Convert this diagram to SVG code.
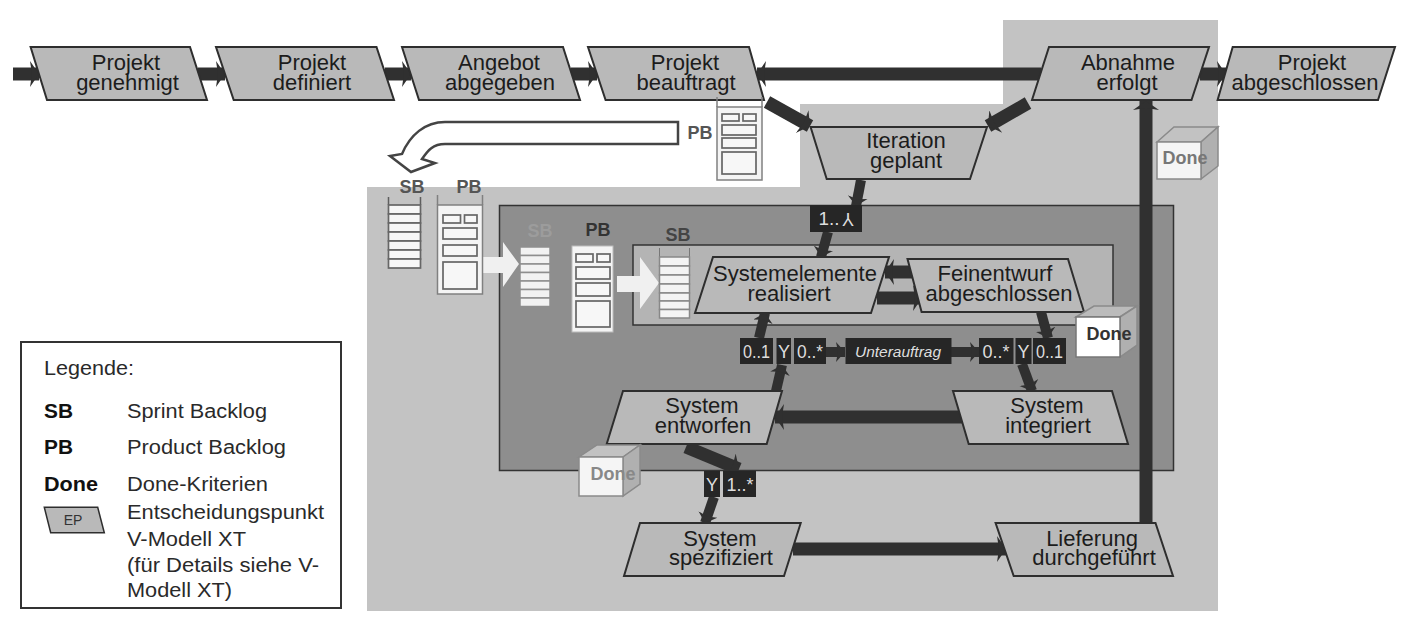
<svg xmlns="http://www.w3.org/2000/svg" width="1417" height="632" viewBox="0 0 1417 632">
<style>
text{font-family:"Liberation Sans",Arial,sans-serif;fill:#1c1c1c}
.ep{fill:#b9b9b9;stroke:#2e2e2e;stroke-width:2}
.n{font-size:22px;text-anchor:middle}
.c{fill:none;stroke:#303030;stroke-width:13;marker-end:url(#h)}
.c2{fill:none;stroke:#303030;stroke-width:10;marker-end:url(#h2)}
.box{fill:#262626}
.w{fill:#dedede;font-size:18px;text-anchor:middle}
.bl{fill:#f4f4f4;stroke:#808080;stroke-width:1.500}
.row{fill:#f7f7f7;stroke:#666;stroke-width:1.700}
.lb{font-size:18px;font-weight:bold;fill:#555;text-anchor:middle}
.dn{font-size:18px;font-weight:bold;text-anchor:middle}
.cf{fill:#f5f5f5;stroke:#8a8a8a;stroke-width:1.500}
.cs{fill:#b0b0b0;stroke:#8a8a8a;stroke-width:1.500}
.ct{fill:#c2c2c2;stroke:#8a8a8a;stroke-width:1.500}
.lg{font-size:20px;fill:#2a2a2a}
.lgb{font-size:20px;font-weight:bold;fill:#111}
.wa{fill:#f0f0f0}
</style>
<defs>
<marker id="h" markerUnits="userSpaceOnUse" markerWidth="10" markerHeight="28" refX="9" refY="14" orient="auto"><path d="M0 1L9 14L0 27L2 14Z" fill="#303030"/></marker>
<marker id="h2" markerUnits="userSpaceOnUse" markerWidth="10" markerHeight="22" refX="9" refY="11" orient="auto"><path d="M0 1L9 11L0 21L2 11Z" fill="#303030"/></marker>
</defs>
<rect width="1417" height="632" fill="#fff"/>
<path id="bg" d="M1003 20H1218V611H367V187H800V104H1003Z" fill="#c3c3c3"/>
<rect id="outer-box" x="499.500" y="205.500" width="674" height="265" fill="#8e8e8e" stroke="#333" stroke-width="1.500"/>
<rect id="inner-box" x="633" y="245" width="480" height="80" fill="#b4b4b4" stroke="#333" stroke-width="1.500"/>

<g id="connectors">
<line class="c" x1="13" y1="74" x2="39" y2="74"/>
<line class="c" x1="198" y1="74" x2="225" y2="74"/>
<line class="c" x1="385" y1="74" x2="411" y2="74"/>
<line class="c" x1="571" y1="74" x2="597" y2="74"/>
<line class="c" x1="1041" y1="74" x2="757" y2="74"/>
<line class="c" x1="1200" y1="74" x2="1226" y2="74"/>
<line class="c" x1="767" y1="102" x2="810" y2="126"/>
<line class="c" x1="1028" y1="103" x2="988" y2="126"/>
<line class="c2" x1="861" y1="180" x2="856" y2="206"/>
<line class="c2" x1="828" y1="232" x2="821" y2="257"/>
<line class="c2" x1="759" y1="338" x2="765" y2="313"/>
<line class="c2" x1="776" y1="391" x2="782" y2="365"/>
<line class="c2" x1="826" y1="352" x2="845" y2="352"/>
<line class="c2" x1="951" y1="352" x2="979" y2="352"/>
<line class="c2" x1="1041" y1="312" x2="1048" y2="338"/>
<line class="c2" x1="1022" y1="364" x2="1032" y2="391"/>
<line class="c" x1="962" y1="417" x2="775" y2="417"/>
<line class="c" x1="915" y1="272" x2="885" y2="272"/>
<line class="c" x1="877" y1="298" x2="922" y2="298"/>
<line class="c" x1="686" y1="447" x2="739" y2="469"/>
<line class="c2" x1="714" y1="497" x2="705" y2="523"/>
<line class="c" x1="793" y1="549" x2="1006" y2="549"/>
<line class="c" x1="1146" y1="523" x2="1146" y2="101"/>
</g>

<g id="n-genehmigt"><polygon class="ep" points="30.600,47 190,47 207,100 47,100"/><text class="n" x="126" y="70">Projekt</text><text class="n" x="127.500" y="90">genehmigt</text></g>
<g id="n-definiert"><polygon class="ep" points="216,47 376.500,47 394,100 233.700,100"/><text class="n" x="312" y="70">Projekt</text><text class="n" x="312" y="90">definiert</text></g>
<g id="n-angebot"><polygon class="ep" points="402,47 563,47 580,100 419,100"/><text class="n" x="499" y="70">Angebot</text><text class="n" x="500" y="90">abgegeben</text></g>
<g id="n-beauftragt"><polygon class="ep" points="588,47 749,47 764,100 605.600,100"/><text class="n" x="685" y="70">Projekt</text><text class="n" x="686" y="90">beauftragt</text></g>
<g id="n-abnahme"><polygon class="ep" points="1049,47 1209,47 1191.500,100 1032,100"/><text class="n" x="1128" y="70">Abnahme</text><text class="n" x="1127" y="90">erfolgt</text></g>
<g id="n-abgeschlossen"><polygon class="ep" points="1232.700,47 1395,47 1378,100 1217.600,100"/><text class="n" x="1312" y="70">Projekt</text><text class="n" x="1305" y="90">abgeschlossen</text></g>
<g id="n-iteration"><polygon class="ep" points="810.600,127 987,127 970,179 826.700,179"/><text class="n" x="906" y="148">Iteration</text><text class="n" x="906" y="168">geplant</text></g>
<g id="n-systemelemente"><polygon class="ep" points="713,257 889,257 871,313 695,313"/><text class="n" x="795" y="281">Systemelemente</text><text class="n" x="789" y="301">realisiert</text></g>
<g id="n-feinentwurf"><polygon class="ep" points="907.500,259 1068,259 1084,312 921.600,312"/><text class="n" x="995" y="281">Feinentwurf</text><text class="n" x="999" y="301">abgeschlossen</text></g>
<g id="n-entworfen"><polygon class="ep" points="623,391 782,391 766.700,444 606.700,444"/><text class="n" x="702" y="413">System</text><text class="n" x="703" y="433">entworfen</text></g>
<g id="n-integriert"><polygon class="ep" points="953,391 1112,391 1128,444 968.700,444"/><text class="n" x="1047" y="413">System</text><text class="n" x="1048" y="433">integriert</text></g>
<g id="n-spezifiziert"><polygon class="ep" points="640,523 800.700,523 784,576 624,576"/><text class="n" x="720" y="546">System</text><text class="n" x="721" y="565">spezifiziert</text></g>
<g id="n-lieferung"><polygon class="ep" points="995.600,523 1155.500,523 1173,576 1013.700,576"/><text class="n" x="1092" y="546">Lieferung</text><text class="n" x="1094" y="565">durchgeführt</text></g>

<g id="tag-1n"><rect class="box" x="810" y="205" width="52" height="27"/><text class="w" x="829" y="225" textLength="21" lengthAdjust="spacingAndGlyphs">1..</text><text class="w" transform="rotate(180 848 219)" x="848" y="225">Y</text></g>
<g id="tag-01-left"><rect class="box" x="740" y="338" width="33" height="26"/><text class="w" x="756.500" y="358" textLength="27" lengthAdjust="spacingAndGlyphs">0..1</text></g>
<g id="tag-y-left"><rect class="box" x="776.500" y="338" width="14.500" height="26"/><text class="w" x="784" y="358">Y</text></g>
<g id="tag-0n-left"><rect class="box" x="794" y="338" width="32" height="26"/><text class="w" x="810" y="358" textLength="26" lengthAdjust="spacingAndGlyphs">0..*</text></g>
<g id="tag-unterauftrag"><rect class="box" x="845.500" y="338" width="106" height="26"/><text class="w" x="898" y="357" style="font-size:15.500px;font-style:italic" textLength="86" lengthAdjust="spacingAndGlyphs">Unterauftrag</text></g>
<g id="tag-0n-right"><rect class="box" x="979" y="338" width="34.500" height="26"/><text class="w" x="996" y="358" textLength="27" lengthAdjust="spacingAndGlyphs">0..*</text></g>
<g id="tag-y-right"><rect class="box" x="1015.500" y="338" width="16" height="26"/><text class="w" x="1023.500" y="358">Y</text></g>
<g id="tag-01-right"><rect class="box" x="1033" y="338" width="33" height="26"/><text class="w" x="1049.500" y="358" textLength="27" lengthAdjust="spacingAndGlyphs">0..1</text></g>
<g id="tag-y-bottom"><rect class="box" x="704" y="471" width="16" height="26"/><text class="w" x="712" y="491">Y</text></g>
<g id="tag-1n-bottom"><rect class="box" x="723" y="471" width="33" height="26"/><text class="w" x="740" y="491" textLength="27" lengthAdjust="spacingAndGlyphs">1..*</text></g>

<g id="arrow-curved"><path d="M678 122H445C425 122 410 135 402 154L390 156L411 172L435 163L422 159C428 150 433 144 445 144H678Z" fill="#fff" stroke="#444" stroke-width="2.500"/></g>
<g id="arrow-white-1"><polygon class="wa" points="483,257 503,257 503,242 519,264 503,287 503,273 483,273"/></g>
<g id="arrow-white-2"><polygon class="wa" points="617,276 640,276 640,257 659,283 640,309 640,292 617,292"/></g>

<g id="pb-top"><path d="M717 97V107M762 97V107" stroke="#808080" stroke-width="1.500" fill="none"/><rect x="717" y="107" width="45" height="73" class="bl"/><rect class="row" x="722" y="114" width="17" height="7"/><rect class="row" x="743" y="114" width="13" height="7"/><rect class="row" x="722" y="125" width="34" height="10"/><rect class="row" x="722" y="138" width="34" height="10"/><rect class="row" x="722" y="152" width="34" height="22"/><text class="lb" x="700" y="139">PB</text></g>
<g id="pb-light"><path d="M437.500 195V205M482.500 195V205" stroke="#808080" stroke-width="1.500" fill="none"/><rect x="437.500" y="205" width="45" height="89" class="bl"/><rect class="row" x="443" y="215" width="17.500" height="8"/><rect class="row" x="464.500" y="215" width="12.500" height="8"/><rect class="row" x="443" y="228" width="34" height="11"/><rect class="row" x="443" y="245" width="34" height="11"/><rect class="row" x="443" y="262" width="34" height="27"/><text class="lb" x="469" y="193">PB</text></g>
<g id="sb-light"><path d="M388.500 197V205M420.500 197V205" stroke="#5e5e5e" stroke-width="1.500" fill="none"/><rect class="row" x="388.500" y="205" width="32" height="9"/><rect class="row" x="388.500" y="214" width="32" height="9"/><rect class="row" x="388.500" y="223" width="32" height="9"/><rect class="row" x="388.500" y="232" width="32" height="9"/><rect class="row" x="388.500" y="241" width="32" height="9"/><rect class="row" x="388.500" y="250" width="32" height="9"/><rect class="row" x="388.500" y="259" width="32" height="9"/><text class="lb" x="412" y="193">SB</text></g>
<g id="sb-faded"><g fill="#f2f2f2" stroke="#8e8e8e" stroke-width="1.500"><rect x="520" y="247" width="30" height="8.500"/><rect x="520" y="255.500" width="30" height="8.500"/><rect x="520" y="264" width="30" height="8.500"/><rect x="520" y="272.500" width="30" height="8.500"/><rect x="520" y="281" width="30" height="8.500"/><rect x="520" y="289.500" width="30" height="8.500"/><rect x="520" y="298" width="30" height="8.500"/></g><text class="lb" x="540" y="237" style="fill:#9c9c9c">SB</text></g>
<g id="pb-dark"><rect x="572" y="246" width="41" height="86" fill="#f4f4f4" stroke="#bbb"/><rect class="row" x="576" y="254" width="17" height="8"/><rect class="row" x="597" y="254" width="13" height="8"/><rect class="row" x="576" y="267" width="34" height="12"/><rect class="row" x="576" y="283" width="34" height="13"/><rect class="row" x="576" y="301" width="34" height="26"/><text class="lb" x="598" y="236" style="fill:#333">PB</text></g>
<g id="sb-inner"><path d="M659.500 248V257M689.500 248V257" stroke="#777" fill="none"/><g fill="#f4f4f4" stroke="#888" stroke-width="1.500"><rect x="659.500" y="257" width="30" height="9"/><rect x="659.500" y="266" width="30" height="9"/><rect x="659.500" y="275" width="30" height="9"/><rect x="659.500" y="284" width="30" height="9"/><rect x="659.500" y="293" width="30" height="8"/><rect x="659.500" y="301" width="30" height="8.500"/><rect x="659.500" y="309.500" width="30" height="8.500"/></g><text class="lb" x="678" y="241" style="fill:#444">SB</text></g>

<g id="done-right"><polygon class="ct" points="1076,317 1094,306 1137,306 1120,317" style="fill:#bbb"/><polygon class="cs" points="1120,317 1137,306 1137,345 1120,357"/><rect x="1076" y="317" width="44" height="40" fill="#fff" stroke="#777" stroke-width="1.500"/><text class="dn" x="1109" y="340" style="fill:#333">Done</text></g>
<g id="done-entworfen"><polygon class="ct" points="579,457 597,445 640,445 623,457"/><polygon class="cs" points="623,457 640,445 640,484 623,496"/><rect x="579" y="457" width="44" height="39" class="cf"/><text class="dn" x="613" y="480" style="fill:#888">Done</text></g>
<g id="done-top"><polygon class="ct" points="1157,142 1174,127 1218,127 1201,142"/><polygon class="cs" points="1201,142 1218,127 1218,166 1201,179"/><rect x="1157" y="142" width="44" height="37" class="cf"/><text class="dn" x="1185" y="164" style="fill:#777">Done</text></g>

<g id="legend">
<rect x="21" y="342" width="320" height="266" fill="#fff" stroke="#333" stroke-width="2"/>
<text class="lg" x="44" y="375" textLength="90" lengthAdjust="spacingAndGlyphs">Legende:</text>
<text class="lgb" x="44" y="418" textLength="29" lengthAdjust="spacingAndGlyphs">SB</text><text class="lg" x="127" y="418" textLength="140" lengthAdjust="spacingAndGlyphs">Sprint Backlog</text>
<text class="lgb" x="44" y="454" textLength="29" lengthAdjust="spacingAndGlyphs">PB</text><text class="lg" x="127" y="454" textLength="159" lengthAdjust="spacingAndGlyphs">Product Backlog</text>
<text class="lgb" x="44" y="491" textLength="54" lengthAdjust="spacingAndGlyphs">Done</text><text class="lg" x="127" y="491" textLength="141" lengthAdjust="spacingAndGlyphs">Done-Kriterien</text>
<polygon class="ep" points="44.300,507.300 97.700,507.300 104.300,532.700 50.700,532.700" style="stroke-width:1.500"/><text x="73" y="525" style="font-size:14px;text-anchor:middle;fill:#333">EP</text>
<text class="lg" x="127" y="519" textLength="197" lengthAdjust="spacingAndGlyphs">Entscheidungspunkt</text>
<text class="lg" x="127" y="546" textLength="119" lengthAdjust="spacingAndGlyphs">V-Modell XT</text>
<text class="lg" x="127" y="572" textLength="192" lengthAdjust="spacingAndGlyphs">(für Details siehe V-</text>
<text class="lg" x="127" y="597" textLength="105" lengthAdjust="spacingAndGlyphs">Modell XT)</text>
</g>
</svg>
